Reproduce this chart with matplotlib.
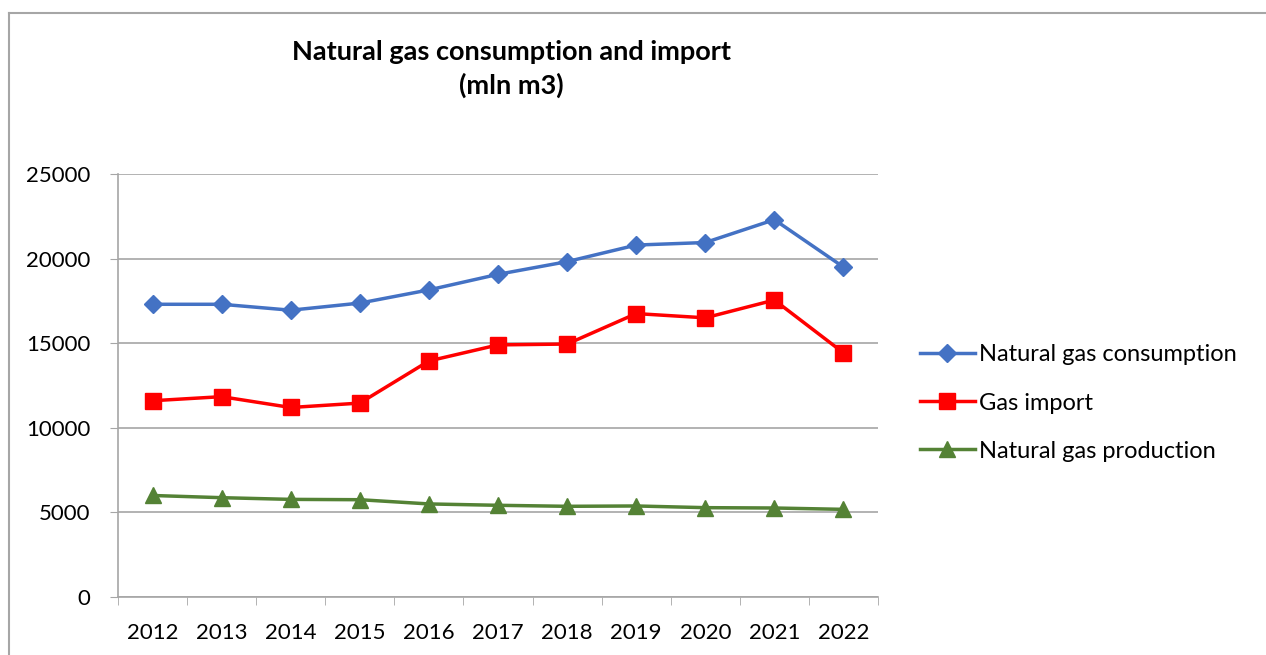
import numpy as np
import matplotlib.pyplot as plt
from matplotlib.lines import Line2D

plt.rcParams['font.family'] = ['Lato', 'DejaVu Sans']

# donnees (mln m3)
years = ['2012', '2013', '2014', '2015', '2016', '2017', '2018', '2019', '2020', '2021', '2022']
consumption = [17300, 17300, 16950, 17370, 18150, 19070, 19820, 20800, 20950, 22300, 19500]
gas_import = [11600, 11840, 11200, 11460, 13950, 14900, 14950, 16750, 16500, 17550, 14430]
production = [6000, 5870, 5770, 5750, 5500, 5420, 5360, 5380, 5280, 5260, 5180]

W, H = 1266, 655
fig = plt.figure(figsize=(W / 100, H / 100), dpi=100)

# cadre exterieur (seulement haut et gauche visibles)
fig.add_artist(Line2D([9 / W, 9 / W], [0, 1 - 13 / H], transform=fig.transFigure, color='#a6a6a6', lw=1.5))
fig.add_artist(Line2D([9 / W, 1], [1 - 13 / H, 1 - 13 / H], transform=fig.transFigure, color='#a6a6a6', lw=1.5))

ax = fig.add_axes([118 / W, 1 - 597 / H, 760 / W, 423 / H])

x = np.arange(len(years))
ax.plot(x, consumption, color='#4472c4', lw=2.5, marker='D', ms=9.5, label='Natural gas consumption')
ax.plot(x, gas_import, color='#ff0000', lw=2.5, marker='s', ms=12, label='Gas import')
ax.plot(x, production, color='#548235', lw=2.5, marker='^', ms=12, label='Natural gas production')

ax.set_xlim(-0.5, len(years) - 0.5)
ax.set_ylim(0, 25000)
ax.set_yticks(np.arange(0, 25001, 5000))
ax.set_xticks(x)
ax.set_xticklabels(years)
ax.set_xticks(np.arange(-0.5, len(years)), minor=True)
ax.tick_params(axis='x', which='major', length=0, pad=19, labelsize=16)
ax.tick_params(axis='x', which='minor', length=6, color='#a6a6a6')
ax.tick_params(axis='y', length=6, color='#a6a6a6', labelsize=16, pad=14)
ax.grid(axis='y', color='#a6a6a6', lw=1.2)
ax.set_axisbelow(True)
for s in ['top', 'right']:
    ax.spines[s].set_visible(False)
for s in ['left', 'bottom']:
    ax.spines[s].set_color('#a6a6a6')
    ax.spines[s].set_linewidth(1.2)

fig.text(511 / W, 1 - 69 / H, 'Natural gas consumption and import\n(mln m3)', ha='center', va='center',
         fontsize=19.5, fontweight='bold', linespacing=1.45)

fig.legend(loc='center left', bbox_to_anchor=(899 / W, 1 - 403 / H), frameon=False, fontsize=17,
           handlelength=2.3, handletextpad=0.2, labelspacing=1.15)

fig.savefig('out.png', dpi=100)
